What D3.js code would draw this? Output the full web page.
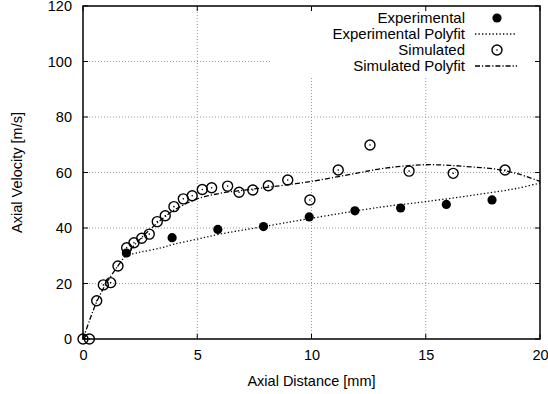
<!DOCTYPE html>
<html><head><meta charset="utf-8">
<script src="https://cdnjs.cloudflare.com/ajax/libs/d3/7.8.5/d3.min.js"></script>
<style>body{margin:0;background:#fff}svg{display:block}text{font-family:"Liberation Sans",Arial,sans-serif;fill:#000}</style>
</head><body><svg id="c" width="548" height="394"></svg>
<script>
const xTicks = [0, 5, 10, 15, 20];
const yTicks = [0, 20, 40, 60, 80, 100, 120];
const expX = [1.9, 3.9, 5.9, 7.9, 9.9, 11.9, 13.9, 15.9, 17.9];
const expY = [31, 36.5, 39.5, 40.5, 44, 46.2, 47.2, 48.5, 50.1];
const simX = [0, 0.28, 0.6, 0.89, 1.21, 1.53, 1.91, 2.23, 2.57, 2.9, 3.25, 3.6, 3.98, 4.39, 4.78, 5.22, 5.63, 6.33, 6.83, 7.43, 8.11, 8.96, 9.93, 11.17, 12.56, 14.27, 16.2, 18.47];
const simY = [0, 0, 13.8, 19.5, 20.3, 26.3, 32.9, 34.7, 36.3, 37.8, 42.3, 44.4, 47.7, 50.5, 51.6, 53.9, 54.5, 55.1, 52.9, 53.7, 55.2, 57.3, 50.1, 60.9, 69.9, 60.5, 59.7, 60.9];
const expFitX = [1.85, 2.5, 3.4, 4, 5, 6, 7.75, 10, 13, 15, 17.8, 19, 20];
const expFitY = [30.2, 31.3, 32.8, 34.2, 36, 37.8, 40.3, 43.5, 47.5, 49.5, 52.7, 54.3, 56.2];
const simFitX = [0, 0.3, 0.6, 1.0, 1.5, 2, 2.5, 3, 3.5, 4, 5, 6, 7, 8, 10, 12, 13, 14, 15, 16, 17, 18, 19, 20];
const simFitY = [0, 7, 13.4, 19.8, 26, 31.5, 36, 40, 43.5, 46.5, 50.5, 52.5, 53.6, 54.6, 56.8, 59.8, 61.3, 62.3, 62.8, 62.6, 62, 61.3, 59.6, 56.8];
const legendLabels = ["Experimental", "Experimental Polyfit", "Simulated", "Simulated Polyfit"];

const svg = d3.select("#c");
const L = 83, R = 540, T = 6, B = 339;
const x = d3.scaleLinear().domain([0, 20]).range([L, R]);
const y = d3.scaleLinear().domain([0, 120]).range([B, T]);
const FS = "14.5px";

// grid
const g = svg.append("g");
g.selectAll(".gx").data(xTicks.slice(1, -1)).enter().append("line")
  .attr("x1", d => x(d)).attr("x2", d => x(d)).attr("y1", T).attr("y2", B)
  .attr("stroke", "#999").attr("stroke-width", 1).attr("stroke-dasharray", "1,2");
g.selectAll(".gy").data(yTicks.slice(1, -1)).enter().append("line")
  .attr("x1", L).attr("x2", R).attr("y1", d => y(d)).attr("y2", d => y(d))
  .attr("stroke", "#999").attr("stroke-width", 1).attr("stroke-dasharray", "1,2");

// legend background
svg.append("rect").attr("x", 272).attr("y", T + 2).attr("width", R - 272 - 1).attr("height", 68).attr("fill", "#fff");

// axes
const ax = svg.append("g").attr("transform", `translate(0,${B})`)
  .call(d3.axisBottom(x).tickValues(xTicks).tickSize(0).tickPadding(11));
ax.select(".domain").remove();
ax.selectAll("text").style("font-size", FS).style("font-family", "Liberation Sans, Arial, sans-serif").attr("fill", "#000");
const ay = svg.append("g").attr("transform", `translate(${L},0)`)
  .call(d3.axisLeft(y).tickValues(yTicks).tickSize(0).tickPadding(11));
ay.select(".domain").remove();
ay.selectAll("text").style("font-size", FS).style("font-family", "Liberation Sans, Arial, sans-serif").attr("fill", "#000");

// ticks inward on all sides
const tk = 5;
xTicks.forEach(v => {
  svg.append("line").attr("x1", x(v)).attr("x2", x(v)).attr("y1", B).attr("y2", B - tk).attr("stroke", "#000");
  svg.append("line").attr("x1", x(v)).attr("x2", x(v)).attr("y1", T).attr("y2", T + tk).attr("stroke", "#000");
});
yTicks.forEach(v => {
  svg.append("line").attr("x1", L).attr("x2", L + tk).attr("y1", y(v)).attr("y2", y(v)).attr("stroke", "#000");
  svg.append("line").attr("x1", R).attr("x2", R - tk).attr("y1", y(v)).attr("y2", y(v)).attr("stroke", "#000");
});
svg.append("rect").attr("x", L).attr("y", T).attr("width", R - L).attr("height", B - T)
  .attr("fill", "none").attr("stroke", "#000").attr("stroke-width", 1.5);

// axis titles
svg.append("text").attr("x", (L + R) / 2).attr("y", 386).attr("text-anchor", "middle")
  .style("font-size", FS).text("Axial Distance [mm]");
svg.append("text").attr("transform", `translate(22,${(T + B) / 2}) rotate(-90)`).attr("text-anchor", "middle")
  .style("font-size", FS).text("Axial Velocity [m/s]");

// curves
const line = d3.line().x(d => x(d[0])).y(d => y(d[1])).curve(d3.curveCatmullRom.alpha(0.5));
svg.append("path").datum(expFitX.map((v, i) => [v, expFitY[i]])).attr("d", line)
  .attr("fill", "none").attr("stroke", "#000").attr("stroke-width", 1.3).attr("stroke-dasharray", "1.3,2.2");
svg.append("path").datum(simFitX.map((v, i) => [v, simFitY[i]])).attr("d", line)
  .attr("fill", "none").attr("stroke", "#000").attr("stroke-width", 1.3).attr("stroke-dasharray", "5,2,1.2,2");

// points
svg.selectAll(".ep").data(expX.map((v, i) => [v, expY[i]])).enter().append("circle")
  .attr("cx", d => x(d[0])).attr("cy", d => y(d[1])).attr("r", 4.6).attr("fill", "#000");
const sp = svg.selectAll(".sp").data(simX.map((v, i) => [v, simY[i]])).enter().append("g")
  .attr("transform", d => `translate(${x(d[0])},${y(d[1])})`);
sp.append("circle").attr("r", 5).attr("fill", "none").attr("stroke", "#000").attr("stroke-width", 1.4);
sp.append("circle").attr("r", 0.8).attr("fill", "#000");

// legend
const ly = [18, 34, 50, 66];
legendLabels.forEach((t, i) => {
  svg.append("text").attr("x", 465).attr("y", ly[i]).attr("dy", "0.35em").attr("text-anchor", "end")
    .style("font-size", "15px").text(t);
});
svg.append("circle").attr("cx", 497).attr("cy", ly[0]).attr("r", 4.6).attr("fill", "#000");
svg.append("line").attr("x1", 475).attr("x2", 517).attr("y1", ly[1]).attr("y2", ly[1])
  .attr("stroke", "#000").attr("stroke-width", 1.3).attr("stroke-dasharray", "1.3,2.2");
svg.append("circle").attr("cx", 497).attr("cy", ly[2]).attr("r", 5).attr("fill", "none").attr("stroke", "#000").attr("stroke-width", 1.4);
svg.append("circle").attr("cx", 497).attr("cy", ly[2]).attr("r", 0.8).attr("fill", "#000");
svg.append("line").attr("x1", 475).attr("x2", 517).attr("y1", ly[3]).attr("y2", ly[3])
  .attr("stroke", "#000").attr("stroke-width", 1.3).attr("stroke-dasharray", "5,2,1.2,2");
</script></body></html>
